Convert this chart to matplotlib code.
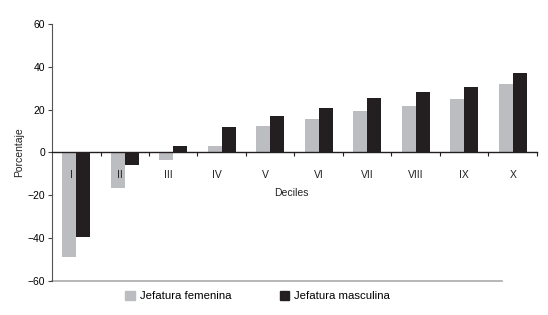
import matplotlib
matplotlib.use('Agg')
import matplotlib.pyplot as plt
from matplotlib.patches import Patch
import numpy as np

plt.rcParams['font.family'] = ['Liberation Sans', 'DejaVu Sans']

# data
deciles = ['I', 'II', 'III', 'IV', 'V', 'VI', 'VII', 'VIII', 'IX', 'X']
femenina = [-48.7, -16.5, -3.4, 2.9, 12.3, 15.5, 19.3, 21.6, 24.9, 31.9]
masculina = [-39.4, -5.8, 2.9, 11.8, 16.9, 20.7, 25.3, 28.1, 30.5, 37.0]

c_fem = '#bcbdc1'
c_mas = '#231f20'
fs = 7.5

fig = plt.figure(figsize=(5.48, 3.15), dpi=100)
ax = fig.add_axes([0.0949, 0.108, 0.885, 0.816])

x = np.arange(len(deciles))
w = 0.29
ax.bar(x - w/2, femenina, width=w, color=c_fem, zorder=2)
ax.bar(x + w/2, masculina, width=w, color=c_mas, zorder=2)

ax.set_xlim(-0.5, len(deciles) - 0.5)
ax.set_ylim(-60, 60)
ax.set_yticks(range(-60, 61, 20))
ax.tick_params(axis='y', labelsize=fs, length=3, width=0.8, color='#444444', pad=2)

# zero line acts as the x axis
ax.spines['top'].set_visible(False)
ax.spines['right'].set_visible(False)
ax.spines['bottom'].set_position(('data', 0))
ax.spines['bottom'].set_linewidth(1.0)
ax.spines['bottom'].set_color('#231f20')
ax.spines['left'].set_color('#555555')
ax.spines['left'].set_linewidth(0.8)
ax.set_xticks(np.arange(0.5, len(deciles), 1.0))
ax.set_xticklabels([])
ax.tick_params(axis='x', length=3, width=0.8, color='#231f20', direction='out')

# category labels sit just under the zero line (first ones slightly left)
for xi, lab in zip(x, deciles):
    dx = -0.1 if xi < 5 else 0.0
    ax.text(xi + dx, -10.5, lab, ha='center', va='center', fontsize=fs,
            color='#222222', zorder=5)

ax.text(4.43, -19, 'Deciles', ha='center', va='center', fontsize=fs, color='#222222')
ax.set_ylabel('Porcentaje', fontsize=fs, color='#222222', labelpad=2.5)

# grey base line at -60
ax.plot([-0.5, 8.78], [-60, -60], color='#aaaaaa', lw=1.2, clip_on=False, zorder=1)

handles = [Patch(color=c_fem, label='Jefatura femenina'),
           Patch(color=c_mas, label='Jefatura masculina')]
fig.legend(handles=handles, loc='center', bbox_to_anchor=(0.47, 0.06), ncol=2,
           frameon=False, fontsize=8.2, handlelength=0.85, handleheight=0.85,
           handletextpad=0.4, columnspacing=4.27)

fig.savefig('out.png', dpi=100)
